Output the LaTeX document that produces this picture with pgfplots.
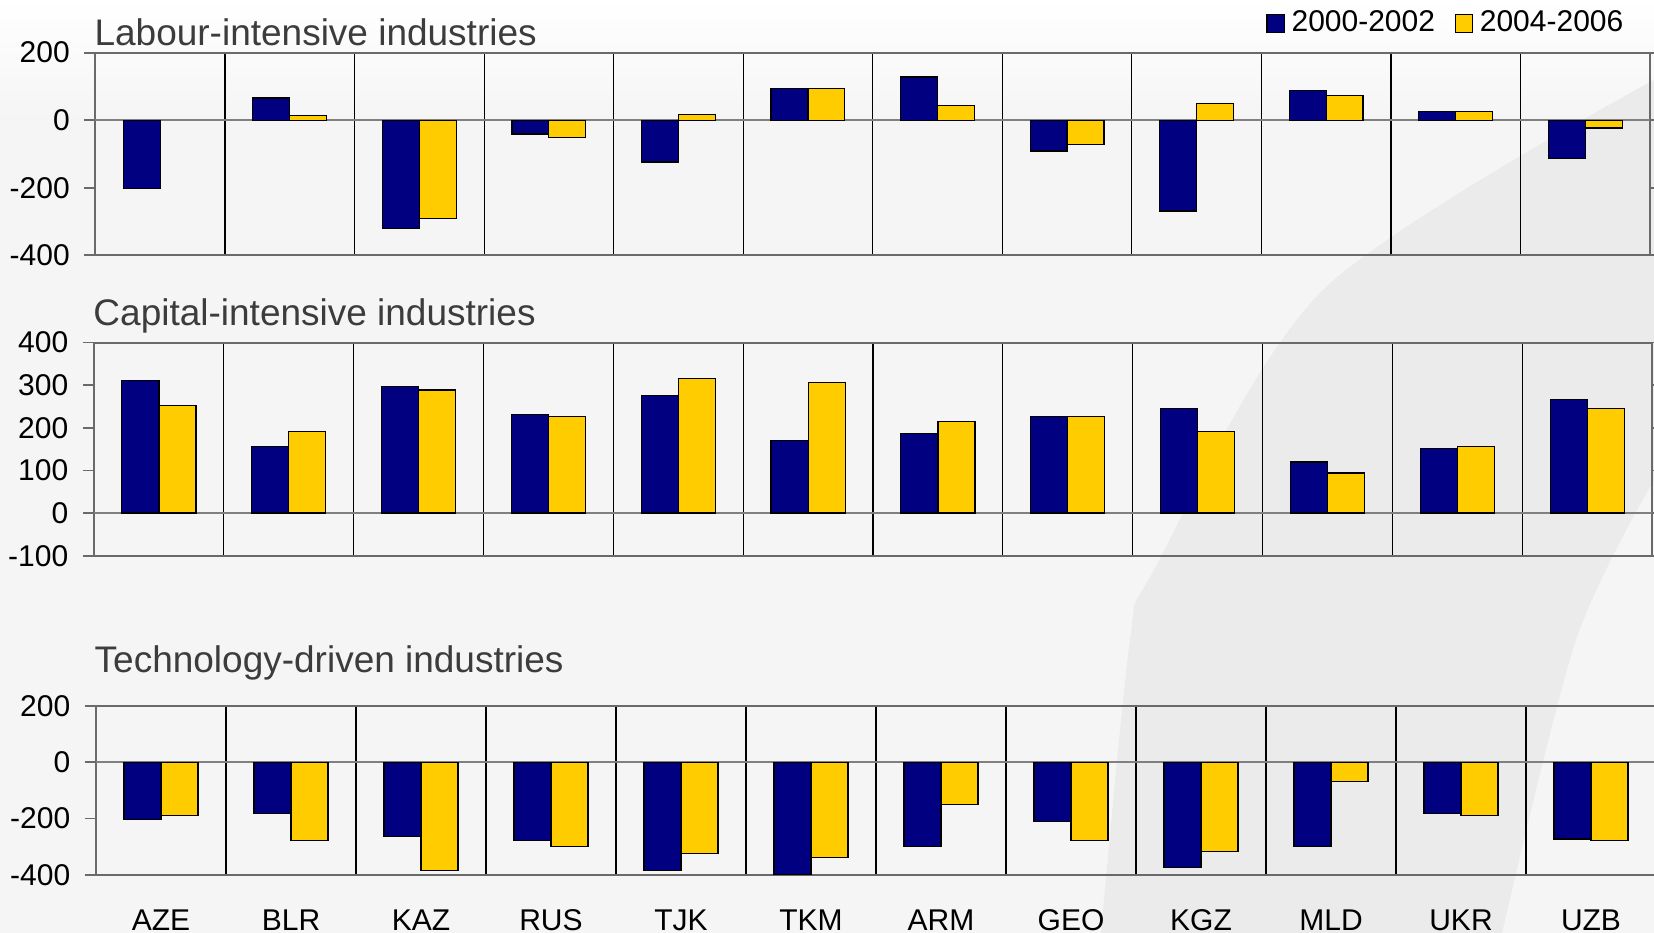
\documentclass[border=0pt]{standalone}
\usepackage{fontspec}
\setmainfont{Liberation Sans}
\usepackage{pgfplots}
\pgfplotsset{compat=1.18}
\definecolor{navybar}{HTML}{000080}
\definecolor{yellowbar}{HTML}{FFCC00}
\definecolor{bg}{HTML}{F5F5F5}
\definecolor{swoosh}{HTML}{EBEBEB}
\definecolor{titlegray}{HTML}{3C3C3C}
\definecolor{framegray}{HTML}{6A6A6A}
\pgfplotsset{
  panel/.style={
    scale only axis, anchor=south west,
    xmin=-0.5, xmax=11.5,
    ybar=0pt, bar width=0.285,
    xtick={0,...,11}, xticklabels={},
    minor xtick={0.5,1.5,...,10.5},
    xminorgrids, minor grid style={black, line width=0.35pt},
    minor tick length=0pt,
    major tick length=3.3pt, tick align=outside,
    xtick style={draw=none},
    ytick style={framegray, line width=0.5pt},
    axis line style={framegray, line width=0.6pt},
    tick label style={font=\fontsize{9}{10}\selectfont},
    yticklabel style={xshift=-0.9pt},
    extra y ticks={0}, extra y tick labels={},
    extra y tick style={ymajorgrids=true, major grid style={gray, line width=0.7pt}, tick style={draw=none}},
  },
  blue/.style={fill=navybar, draw=black, line width=0.35pt},
  yel/.style={fill=yellowbar, draw=black, line width=0.35pt},
}
\begin{document}
\begin{tikzpicture}
\useasboundingbox (0,0) rectangle (496.2pt,279.9pt);
\fill[bg] (0,0) rectangle (496.2pt,279.9pt);
\shade[top color=white, bottom color=bg] (0,243.9pt) rectangle (496.2pt,279.9pt);
\fill[swoosh] plot[smooth] coordinates {(330.3pt,0pt) (339pt,87.9pt) (346.2pt,108.9pt) (396.9pt,192.9pt) (496.2pt,255.9pt)} -- plot[smooth] coordinates {(496.2pt,135.9pt) (472.8pt,87.9pt) (450.6pt,0pt)} -- cycle;

% Panel 1
\begin{axis}[panel, at={(28.65pt,203.31pt)}, width=466.35pt, height=60.78pt,
  ymin=-400, ymax=200, ytick={-400,-200,0,200}, yticklabels={-400,-200,0,200},
  legend style={at={(0.994,1.277)}, anchor=north east, draw=none, fill=none,
    font=\fontsize{9}{10}\selectfont, legend columns=2,
    /tikz/every even column/.append style={column sep=3.9pt}},
  legend image code/.code={\draw[#1] (0pt,-2.6pt) rectangle (5.2pt,2.6pt);}]
\addplot[blue] coordinates {(0,-202) (1,66) (2,-320) (3,-41) (4,-124) (5,94) (6,128) (7,-91) (8,-269) (9,89) (10,27) (11,-113)};
\addplot[yel] coordinates {(1,15) (2,-290) (3,-51) (4,16) (5,93) (6,44) (7,-73) (8,49) (9,72) (10,27) (11,-23)};
\legend{2000-2002,2004-2006}
\end{axis}

% Panel 2
\begin{axis}[panel, at={(28.2pt,113.19pt)}, width=467.4pt, height=63.9pt,
  ymin=-100, ymax=400, ytick={-100,0,100,200,300,400}, yticklabels={-100,0,100,200,300,400}]
\addplot[blue] coordinates {(0,312) (1,157) (2,298) (3,232) (4,276) (5,170) (6,187) (7,227) (8,245) (9,120) (10,151) (11,267)};
\addplot[yel] coordinates {(0,253) (1,191) (2,289) (3,227) (4,316) (5,307) (6,214) (7,227) (8,192) (9,94) (10,156) (11,245)};
\end{axis}

% Panel 3
\begin{axis}[panel, at={(28.8pt,17.49pt)}, width=468pt, height=50.61pt,
  ymin=-400, ymax=200, ytick={-400,-200,0,200}, yticklabels={-400,-200,0,200},
  xticklabels={AZE,BLR,KAZ,RUS,TJK,TKM,ARM,GEO,KGZ,MLD,UKR,UZB},
  xticklabel style={anchor=base, yshift=-13.5pt}]
\addplot[blue] coordinates {(0,-205) (1,-183) (2,-265) (3,-278) (4,-386) (5,-400) (6,-299) (7,-211) (8,-375) (9,-299) (10,-183) (11,-273)};
\addplot[yel] coordinates {(0,-190) (1,-278) (2,-386) (3,-299) (4,-325) (5,-339) (6,-149) (7,-278) (8,-319) (9,-68) (10,-190) (11,-278)};
\end{axis}

\node[anchor=base west, inner sep=0, font=\fontsize{11.1}{13}\selectfont, text=titlegray] at (28.17pt,266.28pt) {Labour-intensive industries};
\node[anchor=base west, inner sep=0, font=\fontsize{11.1}{13}\selectfont, text=titlegray] at (27.84pt,182.1pt) {Capital-intensive industries};
\node[anchor=base west, inner sep=0, font=\fontsize{11.1}{13}\selectfont, text=titlegray] at (28.2pt,78pt) {Technology-driven industries};
\end{tikzpicture}
\end{document}
